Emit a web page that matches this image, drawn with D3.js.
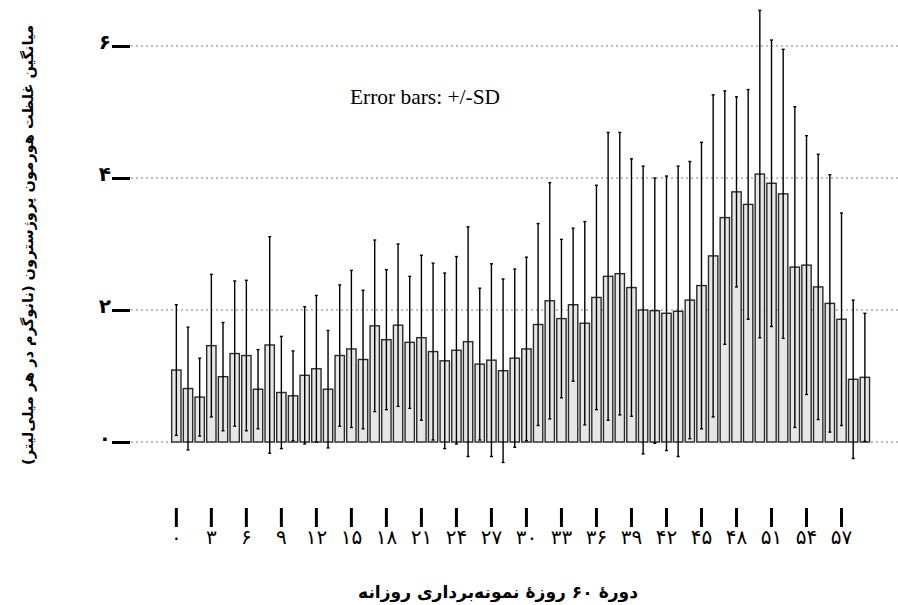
<!DOCTYPE html>
<html>
<head>
<meta charset="utf-8">
<script src="https://cdn.jsdelivr.net/npm/d3@7"></script>
<style>
  body { margin: 0; background: #fff; }
  svg { display: block; }
</style>
</head>
<body>
<div id="chart"></div>
<script>
// day index 0..59
var days = d3.range(60);

// mean progesterone per day
var means = [
  1.09, 0.81, 0.68, 1.46, 0.99, 1.34, 1.31, 0.80, 1.47, 0.75,
  0.70, 1.01, 1.11, 0.80, 1.31, 1.41, 1.25, 1.76, 1.55, 1.77,
  1.51, 1.58, 1.37, 1.23, 1.39, 1.52, 1.18, 1.24, 1.08, 1.27,
  1.41, 1.78, 2.14, 1.87, 2.08, 1.80, 2.19, 2.51, 2.55, 2.34,
  2.00, 1.99, 1.95, 1.98, 2.15, 2.37, 2.82, 3.40, 3.79, 3.60,
  4.06, 3.92, 3.76, 2.65, 2.68, 2.35, 2.10, 1.86, 0.95, 0.98
];

// standard deviations
var sds = [
  0.99, 0.93, 0.59, 1.08, 0.82, 1.10, 1.14, 0.60, 1.64, 0.85,
  0.68, 1.04, 1.11, 0.89, 1.07, 1.19, 1.05, 1.30, 1.06, 1.23,
  1.00, 1.25, 1.34, 1.33, 1.42, 1.74, 1.15, 1.46, 1.39, 1.35,
  1.39, 1.53, 1.79, 1.20, 1.16, 1.54, 1.70, 2.18, 2.14, 1.95,
  2.18, 2.01, 2.08, 2.20, 2.10, 2.17, 2.44, 1.92, 1.44, 1.74,
  2.48, 2.17, 2.19, 2.43, 1.96, 2.01, 1.95, 1.61, 1.20, 0.97
];

var xTickDays = [0, 3, 6, 9, 12, 15, 18, 21, 24, 27, 30, 33, 36, 39, 42, 45, 48, 51, 54, 57];
var xTickLabels = ["۰", "۳", "۶", "۹", "۱۲", "۱۵", "۱۸", "۲۱", "۲۴", "۲۷", "۳۰", "۳۳", "۳۶", "۳۹", "۴۲", "۴۵", "۴۸", "۵۱", "۵۴", "۵۷"];
var yTicks = [0, 2, 4, 6];
var yTickLabels = ["۰", "۲", "۴", "۶"];

var yTitle = "میانگین غلظت هورمون پروژسترون (نانوگرم در هر میلی‌لیتر)";
var xTitle = "دورهٔ ۶۰ روزهٔ نمونه‌برداری روزانه";
var note = "Error bars: +/-SD";

var width = 898;
var height = 605;

var svg = d3.select("#chart")
  .append("svg")
  .attr("width", width)
  .attr("height", height);

var x = d3.scaleBand()
  .domain(days)
  .range([170.5, 870.7])
  .paddingInner(0.2)
  .paddingOuter(0.1);

var y = d3.scaleLinear()
  .domain([0, 6])
  .range([442, 46]);

// grid lines
svg.append("g")
  .selectAll("line")
  .data(yTicks)
  .enter()
  .append("line")
  .attr("x1", 131)
  .attr("x2", width)
  .attr("y1", function(d) { return y(d); })
  .attr("y2", function(d) { return y(d); })
  .attr("stroke", "#808080")
  .attr("stroke-width", 1.2)
  .attr("stroke-dasharray", "2,3");

// y axis
var yAxis = d3.axisLeft(y)
  .tickValues(yTicks)
  .tickFormat(function(d, i) { return yTickLabels[i]; })
  .tickSize(18)
  .tickPadding(1);

var gy = svg.append("g")
  .attr("transform", "translate(130,0)")
  .call(yAxis);
gy.select(".domain").remove();
gy.selectAll(".tick line").attr("stroke", "#000").attr("stroke-width", 3);
gy.selectAll(".tick text")
  .attr("font-family", "DejaVu Sans")
  .attr("font-size", 20)
  .attr("font-weight", "bold")
  .attr("dy", "0.1em")
  .attr("fill", "#000");

// bars
svg.append("g")
  .selectAll("rect")
  .data(days)
  .enter()
  .append("rect")
  .attr("x", function(d) { return x(d); })
  .attr("y", function(d) { return y(means[d]); })
  .attr("width", x.bandwidth())
  .attr("height", function(d) { return y(0) - y(means[d]); })
  .attr("fill", "#e6e6e6")
  .attr("stroke", "#2a2a2a")
  .attr("stroke-width", 1.4);

// error bars
var eb = svg.append("g")
  .attr("stroke", "#000")
  .attr("stroke-width", 1.4);

eb.selectAll("line.err")
  .data(days)
  .enter()
  .append("line")
  .attr("class", "err")
  .attr("x1", function(d) { return x(d) + x.bandwidth() / 2; })
  .attr("x2", function(d) { return x(d) + x.bandwidth() / 2; })
  .attr("y1", function(d) { return y(means[d] - sds[d]); })
  .attr("y2", function(d) { return y(means[d] + sds[d]); });

["top", "bot"].forEach(function(side) {
  eb.selectAll("line.cap-" + side)
    .data(days)
    .enter()
    .append("line")
    .attr("class", "cap-" + side)
    .attr("x1", function(d) { return x(d) + x.bandwidth() / 2 - 1.5; })
    .attr("x2", function(d) { return x(d) + x.bandwidth() / 2 + 1.5; })
    .attr("y1", function(d) { return y(side === "top" ? means[d] + sds[d] : means[d] - sds[d]); })
    .attr("y2", function(d) { return y(side === "top" ? means[d] + sds[d] : means[d] - sds[d]); });
});

// x axis (ticks only, below the plot)
var xAxis = d3.axisBottom(x)
  .tickValues(xTickDays)
  .tickFormat(function(d, i) { return xTickLabels[i]; })
  .tickSize(19)
  .tickPadding(3);

var gx = svg.append("g")
  .attr("transform", "translate(0,508)")
  .call(xAxis);
gx.select(".domain").remove();
gx.selectAll(".tick line").attr("stroke", "#000").attr("stroke-width", 3);
gx.selectAll(".tick text")
  .attr("font-family", "DejaVu Sans")
  .attr("font-size", 20)
  .attr("fill", "#000");

// fit a text element to a target width by scaling its font size
function fitText(sel, target) {
  var len = sel.node().getComputedTextLength();
  var fs = parseFloat(sel.attr("font-size"));
  sel.attr("font-size", (fs * target / len).toFixed(2));
}

// y title
var yt = svg.append("text")
  .attr("transform", "translate(27,245) rotate(-90)")
  .attr("direction", "rtl")
  .attr("text-anchor", "middle")
  .attr("dominant-baseline", "central")
  .attr("font-family", "DejaVu Sans")
  .attr("font-weight", "bold")
  .attr("font-size", 16)
  .text(yTitle);
fitText(yt, 440);

// x title
var xt = svg.append("text")
  .attr("x", 498)
  .attr("y", 598)
  .attr("direction", "rtl")
  .attr("text-anchor", "middle")
  .attr("font-family", "DejaVu Sans")
  .attr("font-weight", "bold")
  .attr("font-size", 16)
  .text(xTitle);
fitText(xt, 280);

// note
var nt = svg.append("text")
  .attr("x", 350)
  .attr("y", 104)
  .attr("font-family", "Liberation Serif")
  .attr("font-size", 20)
  .text(note);
fitText(nt, 150);
</script>
</body>
</html>
